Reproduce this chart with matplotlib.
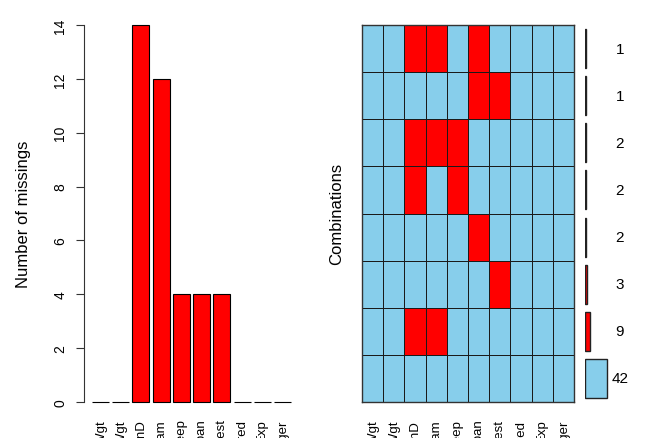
import matplotlib
matplotlib.use("Agg")
import matplotlib.pyplot as plt
from matplotlib.colors import ListedColormap
import numpy as np

plt.rcParams['font.family'] = ['Liberation Sans', 'DejaVu Sans']

variables = ["BodyWgt", "BrainWgt", "NonD", "Dream", "Sleep", "Span", "Gest", "Pred", "Exp", "Danger"]
n_missing = [0, 0, 14, 12, 4, 4, 4, 0, 0, 0]
combo_missing = [["NonD", "Dream", "Span"], ["Span", "Gest"], ["NonD", "Dream", "Sleep"],
                 ["NonD", "Sleep"], ["Span"], ["Gest"], ["NonD", "Dream"], []]
combo_counts = [1, 1, 2, 2, 2, 3, 9, 42]

SKY = "#87CEEB"
RED = "#FF0000"
W, H = 646, 439

fig = plt.figure(figsize=(W / 100, H / 100), dpi=100)

# ---- left: number of missings ----
ax1 = fig.add_axes([84 / W, 21 / H, 215 / W, 407 / H])
pos = 0.7 + 1.2 * np.arange(len(variables))
ax1.bar(pos, n_missing, width=1.0, color=RED, edgecolor="black", linewidth=0.8)
ax1.set_xlim(-0.272, 12.472)
ax1.set_ylim(-0.56, 14.56)
for s in ["top", "right", "bottom"]:
    ax1.spines[s].set_visible(False)
ax1.spines["left"].set_bounds(0, 14)
ax1.spines["left"].set_linewidth(0.8)
ax1.spines["left"].set_color("#333333")
ax1.set_yticks(range(0, 15, 2))
ax1.set_yticklabels([str(v) for v in range(0, 15, 2)], rotation=90, va="center", fontsize=10)
ax1.tick_params(axis="y", length=6, width=0.8, pad=6, color="#333333")
ax1.set_xticks(pos)
ax1.set_xticklabels(variables, rotation=90, fontsize=9.5)
ax1.tick_params(axis="x", length=0, pad=1)
fig.text(24 / W, 1 - 214 / H, "Number of missings", rotation=90, ha="center", va="center", fontsize=12)

# ---- right: combinations ----
ax2 = fig.add_axes([362 / W, 36 / H, 212 / W, 377 / H])
mat = np.array([[1 if v in row else 0 for v in variables] for row in combo_missing])
ax2.pcolormesh(mat, cmap=ListedColormap([SKY, RED]), vmin=0, vmax=1,
               edgecolors="#1a1a1a", linewidth=0.7)
ax2.set_xlim(0, len(variables))
ax2.set_ylim(len(combo_missing), 0)
ax2.set_yticks([])
ax2.set_xticks(np.arange(len(variables)) + 0.5)
ax2.set_xticklabels(variables, rotation=90, fontsize=9.5)
ax2.tick_params(axis="x", length=0, pad=12)
for s in ax2.spines.values():
    s.set_linewidth(1.0)
    s.set_color("#333333")
fig.text(337 / W, 1 - 214 / H, "Combinations", rotation=90, ha="center", va="center", fontsize=12)

# ---- right-most: combination counts ----
ax3 = fig.add_axes([585 / W, 36 / H, 61 / W, 377 / H])
rows = np.arange(len(combo_counts)) + 0.5
bar_colors = [SKY if len(m) == 0 else RED for m in combo_missing]
ax3.barh(rows, combo_counts, height=0.83, color=bar_colors, edgecolor="#222222", linewidth=1.0)
ax3.set_xlim(0, 117)
ax3.set_ylim(len(combo_counts), 0)
ax3.axis("off")
for r, c in zip(rows, combo_counts):
    ax3.text(67, r, str(c), ha="center", va="center", fontsize=11)

fig.savefig("out.png", dpi=100)
